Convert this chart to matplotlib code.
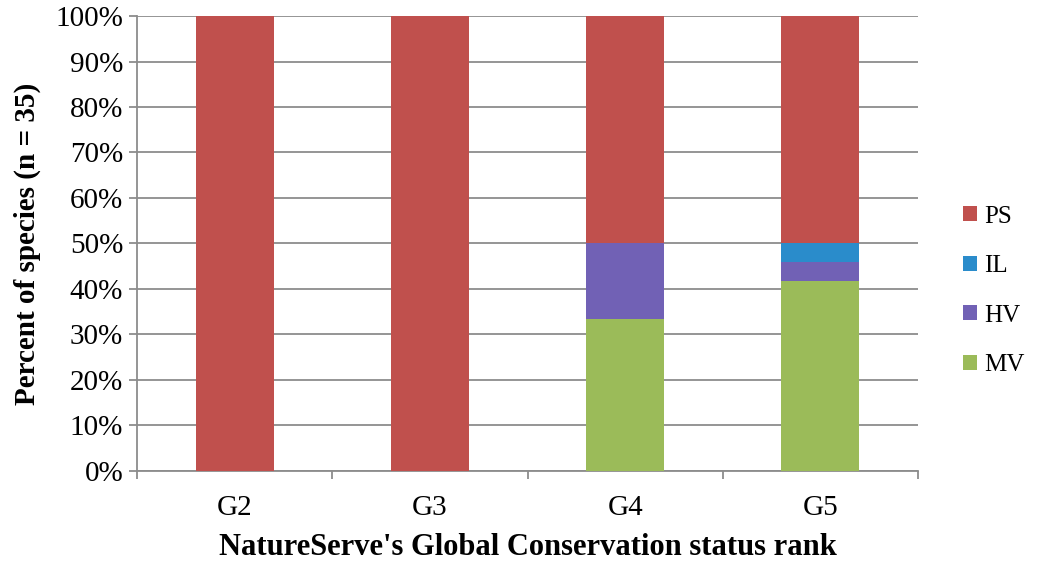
import matplotlib.pyplot as plt
import numpy as np

plt.rcParams['font.family'] = ['Liberation Serif', 'DejaVu Serif']

ranks = ['G2', 'G3', 'G4', 'G5']
series = ['MV', 'HV', 'IL', 'PS']
mv = [0.0, 0.0, 33.3, 41.7]
hv = [0.0, 0.0, 16.7, 4.2]
il = [0.0, 0.0, 0.0, 4.2]
ps = [100.0, 100.0, 50.0, 50.0]
colors = ['#9BBB59', '#7161B5', '#2A8CCB', '#C0504D']

fig = plt.figure(figsize=(10.43, 5.62), dpi=100)
ax = fig.add_axes([0.1314, 0.162, 0.7488, 0.8095])

x = np.arange(len(ranks))
bottom = np.zeros(len(ranks))
bars = []
for name, vals, c in zip(series, [mv, hv, il, ps], colors):
    b = ax.bar(x, vals, 0.4, bottom=bottom, color=c, label=name, zorder=3)
    bars.append(b)
    bottom += np.array(vals)

ax.set_xlim(-0.5, len(ranks) - 0.5)
ax.set_ylim(0, 100)
ax.set_yticks(np.arange(0, 101, 10))
ax.set_yticklabels([f'{v}%' for v in range(0, 101, 10)], fontsize=21)
ax.yaxis.grid(True, color='#8C8C8C', linewidth=1.3, zorder=0)

ax.set_xticks(x)
ax.set_xticklabels(ranks, fontsize=21)
ax.tick_params(axis='x', length=0, pad=17)
ax.set_xticks(np.arange(-0.5, len(ranks), 1), minor=True)
ax.tick_params(axis='x', which='minor', length=6, color='#8C8C8C', width=1.3)
ax.tick_params(axis='y', length=6, color='#8C8C8C', width=1.3, pad=4)

for s in ['top', 'right']:
    ax.spines[s].set_visible(False)
for s in ['left', 'bottom']:
    ax.spines[s].set_color('#8C8C8C')
    ax.spines[s].set_linewidth(1.3)

ax.set_ylabel('Percent of species (n = 35)', fontsize=21, fontweight='bold', labelpad=10)
ax.set_xlabel("NatureServe's Global Conservation status rank", fontsize=22,
              fontweight='bold', labelpad=9)

handles = bars[::-1]
leg = ax.legend(handles, [h.get_label() for h in handles], loc='center left',
                bbox_to_anchor=(1.045, 0.396), frameon=False, fontsize=18,
                handlelength=0.55, handleheight=0.55, handletextpad=0.3,
                labelspacing=1.1, borderaxespad=0)

fig.savefig('out.png', dpi=100)
